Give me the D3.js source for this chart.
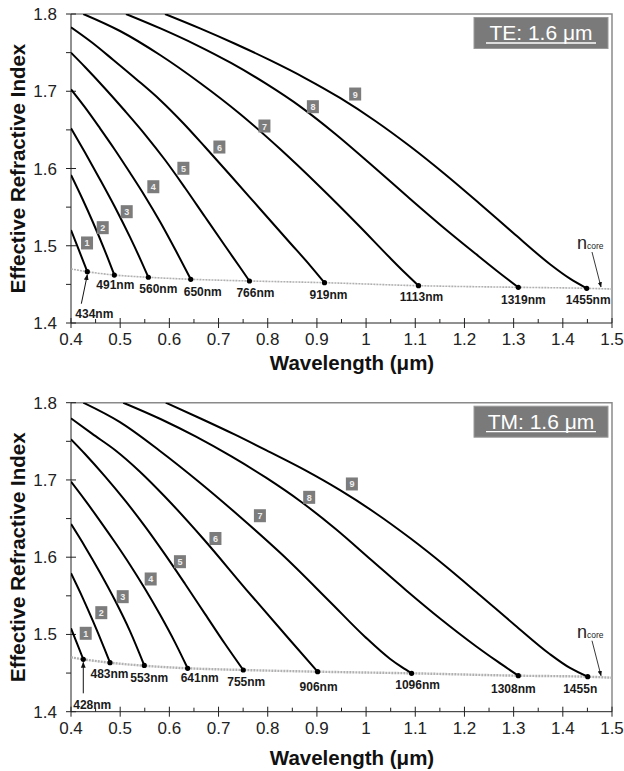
<!DOCTYPE html>
<html>
<head>
<meta charset="utf-8">
<script src="https://cdn.jsdelivr.net/npm/d3@7"></script>
<style>
body { margin: 0; background: #fff; }
text { font-family: Arial, "Liberation Sans", sans-serif; }
</style>
</head>
<body>
<script>
// ---- data ----
var xTicks = [0.4, 0.5, 0.6, 0.7, 0.8, 0.9, 1, 1.1, 1.2, 1.3, 1.4, 1.5];
var yTicks = [1.4, 1.5, 1.6, 1.7, 1.8];
var modeNames = ["1", "2", "3", "4", "5", "6", "7", "8", "9"];

// TE, 1.6 um : effective index of modes 1..9, [wavelength um, n_eff]
var teModes = [
  [[0.400, 1.5204], [0.4163, 1.4939], [0.4332, 1.4664]],
  [[0.400, 1.5916], [0.4224, 1.5618], [0.4448, 1.5301], [0.4671, 1.4964], [0.4881, 1.4621]],
  [[0.400, 1.6520], [0.4285, 1.6206], [0.4590, 1.5859], [0.4895, 1.5499], [0.5200, 1.5111], [0.5404, 1.4834], [0.5573, 1.4592]],
  [[0.400, 1.7025], [0.4285, 1.6791], [0.4590, 1.6520], [0.4895, 1.6240], [0.5200, 1.5944], [0.5506, 1.5638], [0.5811, 1.5310], [0.6116, 1.4954], [0.6435, 1.4566]],
  [[0.400, 1.7499], [0.4285, 1.7314], [0.4692, 1.7036], [0.5099, 1.6744], [0.5506, 1.6440], [0.5913, 1.6110], [0.6320, 1.5748], [0.6727, 1.5372], [0.7134, 1.4997], [0.7439, 1.4718], [0.7628, 1.4544]],
  [[0.400, 1.7828], [0.4427, 1.7631], [0.4861, 1.7405], [0.5322, 1.7159], [0.5811, 1.6887], [0.6279, 1.6589], [0.6726, 1.6278], [0.7235, 1.5916], [0.7845, 1.5476], [0.8456, 1.5036], [0.8863, 1.4744], [0.9154, 1.4522]],
  [[0.425, 1.800], [0.4997, 1.7780], [0.5811, 1.7469], [0.6625, 1.7107], [0.7438, 1.6706], [0.8252, 1.6252], [0.9066, 1.5761], [0.9880, 1.5243], [1.0490, 1.4841], [1.0795, 1.4647], [1.1066, 1.4483]],
  [[0.5118, 1.800], [0.5830, 1.7810], [0.6542, 1.7601], [0.7253, 1.7366], [0.7965, 1.7098], [0.8677, 1.6795], [0.9388, 1.6441], [1.0100, 1.6052], [1.0812, 1.5653], [1.1523, 1.5263], [1.2235, 1.4892], [1.2662, 1.4674], [1.3095, 1.4462]],
  [[0.5911, 1.800], [0.6623, 1.7814], [0.7335, 1.7615], [0.8046, 1.7402], [0.8758, 1.7171], [0.9470, 1.6913], [1.0181, 1.6618], [1.0893, 1.6287], [1.1605, 1.5925], [1.2316, 1.5540], [1.3028, 1.5146], [1.3740, 1.4761], [1.4146, 1.4574], [1.4486, 1.4449]]
];
var teCutoffText = ["434nm", "491nm", "560nm", "650nm", "766nm", "919nm", "1113nm", "1319nm", "1455nm"];
var teCore = [[0.4, 1.4700], [0.433, 1.4664], [0.488, 1.4621], [0.557, 1.4592], [0.644, 1.4566], [0.763, 1.4544], [0.915, 1.4522], [1.107, 1.4483], [1.310, 1.4462], [1.449, 1.4449], [1.5, 1.4440]];
var teTags = [[0.4326, 1.5036], [0.4645, 1.5234], [0.5133, 1.5441], [0.5674, 1.5764], [0.6285, 1.6003], [0.7017, 1.6278], [0.7933, 1.6550], [0.8918, 1.6800], [0.9778, 1.6964]];

// TM, 1.6 um
var tmModes = [
  [[0.400, 1.5080], [0.4126, 1.4877], [0.4250, 1.4678]],
  [[0.400, 1.5792], [0.4224, 1.5493], [0.4447, 1.5172], [0.4671, 1.4830], [0.4793, 1.4634]],
  [[0.400, 1.6430], [0.4285, 1.6136], [0.4589, 1.5802], [0.4894, 1.5442], [0.5199, 1.5043], [0.5490, 1.4599]],
  [[0.400, 1.6977], [0.4285, 1.6738], [0.4589, 1.6471], [0.4894, 1.6193], [0.5199, 1.5902], [0.5504, 1.5591], [0.5809, 1.5257], [0.6114, 1.4897], [0.6372, 1.4562]],
  [[0.400, 1.7526], [0.4285, 1.7336], [0.4691, 1.7046], [0.5098, 1.6735], [0.5504, 1.6399], [0.5911, 1.6036], [0.6317, 1.5656], [0.6724, 1.5267], [0.7130, 1.4879], [0.7502, 1.4540]],
  [[0.400, 1.7798], [0.4427, 1.7599], [0.4894, 1.7388], [0.5402, 1.7107], [0.5911, 1.6783], [0.6689, 1.6239], [0.7571, 1.5575], [0.8451, 1.4928], [0.9014, 1.4518]],
  [[0.425, 1.800], [0.4996, 1.7748], [0.5809, 1.7375], [0.6622, 1.6964], [0.7435, 1.6524], [0.8303, 1.6028], [0.9264, 1.5424], [0.9976, 1.4971], [1.0484, 1.4686], [1.0728, 1.4576], [1.0925, 1.4497]],
  [[0.5063, 1.800], [0.5830, 1.7786], [0.6542, 1.7560], [0.7253, 1.7307], [0.7965, 1.7029], [0.8677, 1.6718], [0.9388, 1.6362], [1.0100, 1.5967], [1.0812, 1.5573], [1.1523, 1.5197], [1.2235, 1.4848], [1.2662, 1.4654], [1.3095, 1.4466]],
  [[0.5926, 1.800], [0.6623, 1.7799], [0.7335, 1.7586], [0.8046, 1.7359], [0.8758, 1.7126], [0.9470, 1.6867], [1.0181, 1.6576], [1.0893, 1.6248], [1.1605, 1.5890], [1.2316, 1.5508], [1.3028, 1.5120], [1.3740, 1.4744], [1.4146, 1.4566], [1.4506, 1.4453]]
];
var tmCutoffText = ["428nm", "483nm", "553nm", "641nm", "755nm", "906nm", "1096nm", "1308nm", "1455n"];
var tmCore = [[0.4, 1.4704], [0.425, 1.4678], [0.4793, 1.4634], [0.549, 1.4595], [0.6372, 1.4562], [0.7502, 1.4540], [0.9014, 1.4518], [1.0925, 1.4497], [1.3092, 1.4466], [1.4502, 1.4453], [1.5, 1.4440]];
var tmTags = [[0.4299, 1.5015], [0.4616, 1.5282], [0.5051, 1.5489], [0.5620, 1.5718], [0.6215, 1.5942], [0.6937, 1.6242], [0.7841, 1.6537], [0.8843, 1.6775], [0.9711, 1.6948]];

// ---- layout ----
var width = 624, height = 771;
// text offsets (px) of the cut-off labels from their dots
var teShift = [[7, 46], [1, 14], [10, 16], [12, 17], [6, 16], [4, 16], [3, 15], [5, 17], [1.5, 16]];
var tmShift = [[9, 50], [-0.5, 15], [5, 17], [12, 14], [3, 16], [1, 19], [6, 16], [-5, 17], [-7.5, 16]];

var svg = d3.select('body').append('svg')
  .attr('width', width)
  .attr('height', height);

var defs = svg.append('defs');
defs.append('marker')
  .attr('id', 'head')
  .attr('viewBox', '0 0 10 10')
  .attr('refX', 9).attr('refY', 5)
  .attr('markerWidth', 6).attr('markerHeight', 6)
  .attr('orient', 'auto')
  .append('path').attr('d', 'M0,1 L10,5 L0,9 Z').attr('fill', '#111');

var drawPanel = function(p) {
  var x = d3.scaleLinear().domain([0.4, 1.5]).range([71, 612]);
  var y = d3.scaleLinear().domain([1.4, 1.8]).range([p.bottom, p.top]);
  var g = svg.append('g');

  defs.append('clipPath').attr('id', 'clip' + p.id)
    .append('rect')
    .attr('x', x(0.4)).attr('y', y(1.8))
    .attr('width', x(1.5) - x(0.4)).attr('height', y(1.4) - y(1.8));

  // frame: top and right in grey
  g.append('path')
    .attr('d', 'M' + x(0.4) + ',' + y(1.8) + 'H' + x(1.5) + 'V' + y(1.4))
    .attr('fill', 'none').attr('stroke', '#8a8a8a').attr('stroke-width', 1.5);

  // axes
  g.append('line').attr('x1', x(0.4)).attr('x2', x(1.5)).attr('y1', y(1.4)).attr('y2', y(1.4))
    .attr('stroke', '#222').attr('stroke-width', 1);
  g.append('line').attr('x1', x(0.4)).attr('x2', x(0.4)).attr('y1', y(1.4)).attr('y2', y(1.8))
    .attr('stroke', '#222').attr('stroke-width', 1);

  g.selectAll('.xt').data(xTicks).enter().append('line')
    .attr('x1', x).attr('x2', x)
    .attr('y1', y(1.4) - 5).attr('y2', y(1.4) + 5)
    .attr('stroke', '#222');
  g.selectAll('.xm').data(d3.range(0.45, 1.5, 0.1)).enter().append('line')
    .attr('x1', x).attr('x2', x)
    .attr('y1', y(1.4) - 4).attr('y2', y(1.4))
    .attr('stroke', '#222');
  g.selectAll('.yt').data(yTicks).enter().append('line')
    .attr('x1', x(0.4) - 5).attr('x2', x(0.4) + 5)
    .attr('y1', y).attr('y2', y)
    .attr('stroke', '#222');
  g.selectAll('.ym').data(d3.range(1.45, 1.8, 0.1)).enter().append('line')
    .attr('x1', x(0.4) - 5).attr('x2', x(0.4))
    .attr('y1', y).attr('y2', y)
    .attr('stroke', '#222');

  g.selectAll('.xl').data(xTicks).enter().append('text')
    .attr('x', x).attr('y', y(1.4) + 22)
    .attr('text-anchor', 'middle')
    .attr('font-size', 17).attr('fill', '#222')
    .text(function(d) { return String(d); });
  g.selectAll('.yl').data(yTicks).enter().append('text')
    .attr('x', x(0.4) - 14).attr('y', function(d) { return y(d) + 6; })
    .attr('text-anchor', 'end')
    .attr('font-size', 17).attr('fill', '#222')
    .text(function(d) { return d.toFixed(1); });

  g.append('text')
    .attr('transform', 'translate(25,' + ((y(1.4) + y(1.8)) / 2) + ') rotate(-90)')
    .attr('text-anchor', 'middle')
    .attr('font-size', 20.5).attr('font-weight', 'bold').attr('fill', '#111')
    .text('Effective Refractive Index');
  g.append('text')
    .attr('x', 352).attr('y', y(1.4) + p.titleDy)
    .attr('text-anchor', 'middle')
    .attr('font-size', 20.5).attr('font-weight', 'bold').attr('fill', '#111')
    .text('Wavelength (\u03bcm)');

  var line = d3.line()
    .x(function(d) { return x(d[0]); })
    .y(function(d) { return y(d[1]); })
    .curve(d3.curveMonotoneX);

  var plot = g.append('g').attr('clip-path', 'url(#clip' + p.id + ')');

  // core index line
  plot.append('path').datum(p.core)
    .attr('d', line)
    .attr('fill', 'none')
    .attr('stroke', '#b0b0b0')
    .attr('stroke-width', p.coreWidth)
    .attr('stroke-dasharray', '2,1');

  plot.selectAll('.mode').data(p.modes).enter().append('path')
    .attr('d', line)
    .attr('fill', 'none')
    .attr('stroke', '#000')
    .attr('stroke-width', 2);

  var ends = p.modes.map(function(m) { return m[m.length - 1]; });
  g.selectAll('.dot').data(ends).enter().append('circle')
    .attr('cx', function(d) { return x(d[0]); })
    .attr('cy', function(d) { return y(d[1]); })
    .attr('r', 2.6).attr('fill', '#000');

  g.selectAll('.cut').data(ends).enter().append('text')
    .attr('x', function(d, i) { return x(d[0]) + p.shift[i][0]; })
    .attr('y', function(d, i) { return y(d[1]) + p.shift[i][1]; })
    .attr('text-anchor', 'middle')
    .attr('font-size', 12).attr('font-weight', 'bold').attr('fill', '#1a1a1a')
    .text(function(d, i) { return p.cutText[i]; });

  // arrow to the first cut-off
  var e0 = ends[0];
  g.append('line')
    .attr('x1', x(e0[0]) + p.arrow0[0]).attr('y1', y(e0[1]) + p.arrow0[1])
    .attr('x2', x(e0[0])).attr('y2', y(e0[1]) + 3)
    .attr('stroke', '#111').attr('stroke-width', 1)
    .attr('marker-end', 'url(#head)');

  // mode number tags
  var tags = g.selectAll('.tag').data(p.tags).enter().append('g')
    .attr('transform', function(d) { return 'translate(' + x(d[0]) + ',' + y(d[1]) + ')'; });
  tags.append('rect')
    .attr('x', -6).attr('y', -6.5).attr('width', 12).attr('height', 13)
    .attr('fill', '#7c7c7c');
  tags.append('text')
    .attr('y', 3.5).attr('text-anchor', 'middle')
    .attr('font-size', 9).attr('font-weight', 'bold').attr('fill', '#eee')
    .text(function(d, i) { return modeNames[i]; });

  // n_core note
  var cx = x(1.5), cy = y(p.core[p.core.length - 1][1]);
  var nc = g.append('text').attr('x', cx - 35).attr('y', cy - 40)
    .attr('font-size', 18).attr('fill', '#222');
  nc.append('tspan').text('n');
  nc.append('tspan').attr('font-size', 8.5).text('core');
  g.append('line')
    .attr('x1', cx - 20).attr('y1', cy - 37)
    .attr('x2', cx - 11).attr('y2', cy - 2)
    .attr('stroke', '#222').attr('stroke-width', 0.9)
    .attr('marker-end', 'url(#head)');

  // title box
  g.append('rect')
    .attr('x', 474).attr('y', y(1.8) + 3.5)
    .attr('width', 134).attr('height', 31)
    .attr('fill', '#7a7a7a').attr('stroke', '#9a9a9a');
  g.append('text')
    .attr('x', 541).attr('y', y(1.8) + 26)
    .attr('text-anchor', 'middle')
    .attr('font-size', 21).attr('fill', '#fff')
    .text(p.title);
  g.append('line')
    .attr('x1', 486).attr('x2', 596)
    .attr('y1', y(1.8) + 29).attr('y2', y(1.8) + 29)
    .attr('stroke', '#fff').attr('stroke-width', 1.3);
};

drawPanel({
  id: 'te', top: 14, bottom: 323, titleDy: 47,
  modes: teModes, core: teCore, tags: teTags, cutText: teCutoffText,
  shift: teShift, arrow0: [-6, 32], coreWidth: 1.6, title: 'TE: 1.6 \u03bcm'
});
drawPanel({
  id: 'tm', top: 402.7, bottom: 711.7, titleDy: 53,
  modes: tmModes, core: tmCore, tags: tmTags, cutText: tmCutoffText,
  shift: tmShift, arrow0: [0, 34], coreWidth: 2.4, title: 'TM: 1.6 \u03bcm'
});
</script>
</body>
</html>
